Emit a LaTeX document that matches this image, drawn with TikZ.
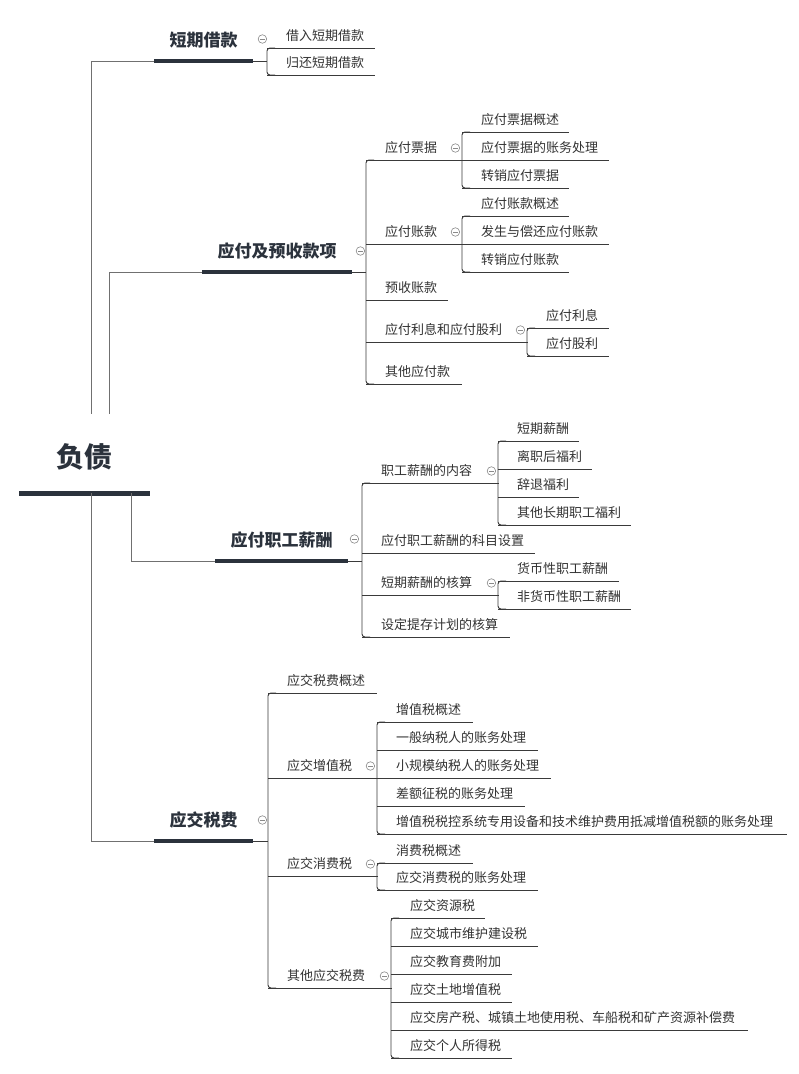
\documentclass[tikz,border=0pt]{standalone}
\usepackage{fontspec}
\setmainfont{Noto Sans CJK SC}
\usetikzlibrary{calc}
\definecolor{ink}{HTML}{333333}
\definecolor{navy}{HTML}{2B323C}
\definecolor{wire}{HTML}{3A3A3A}
\definecolor{rootwire}{HTML}{707070}
\definecolor{knobc}{HTML}{8A8A8A}
\tikzset{
  leaf/.style={anchor=south west, inner xsep=0pt, inner ysep=4.1pt, text height=10pt, text depth=3pt,
    font=\fontsize{13}{15}\selectfont, text=ink,
    append after command={(\tikzlastnode.south west) edge[draw=wire, line width=0.9pt] (\tikzlastnode.south east)}},
  major/.style={anchor=south west, inner xsep=0pt, inner ysep=10.5pt, text height=13pt, text depth=4pt,
    font=\fontsize{17}{20}\selectfont\bfseries, text=navy,
    append after command={(\tikzlastnode.south west) edge[draw=navy, line width=4pt] (\tikzlastnode.south east)}},
  rootnode/.style={anchor=south west, inner xsep=0pt, inner ysep=21.4pt, text height=32pt, text depth=4pt,
    font=\fontsize{28}{32}\selectfont\bfseries, text=navy,
    append after command={(\tikzlastnode.south west) edge[draw=navy, line width=5pt] (\tikzlastnode.south east)}},
  knob/.style={circle, draw=knobc, line width=0.6pt, minimum size=8.5pt, inner sep=0pt, fill=white,
    path picture={\draw[knobc, line width=0.6pt] ($(path picture bounding box.west)+(2pt,0)$) -- ($(path picture bounding box.east)+(-2pt,0)$);}},
  wireline/.style={draw=wire, line width=0.9pt},
  rootline/.style={draw=rootwire, line width=1pt}
}
\newcommand\topic[5]{\node[leaf] (#1) at (#2,#3) {\makebox[#4pt][l]{\hspace*{19pt}#5}};}
\newcommand\bigtopic[5]{\node[major] (#1) at (#2,#3) {\makebox[#4pt]{#5}};}
\newcommand\bracket[3]{%
  \draw[wireline] (#1.south east) -- (#1.south east -| #2.south west);%
  \draw[wireline, rounded corners=3pt] ($(#2.south west)+(8,0)$) -- (#2.south west) -- (#3.south west) -- ($(#3.south west)+(8,0)$);}
\begin{document}
\begin{tikzpicture}[x=1pt,y=-1pt]
\fill[white] (0,0) rectangle (799,1074);
\useasboundingbox (0,0) rectangle (799,1074);

% root
\node[rootnode] (root) at (19,493) {\makebox[131pt]{负债}};

% level 1
\bigtopic{s1}{154}{61}{99}{短期借款}
\bigtopic{s2}{202}{272}{150}{应付及预收款项}
\bigtopic{s3}{215}{561}{133}{应付职工薪酬}
\bigtopic{s4}{154}{841}{99}{应交税费}

\draw[rootline] ($(root.north west)+(72,0)$) |- (s1.south west);
\draw[rootline] ($(root.north west)+(90,0)$) |- (s2.south west);
\draw[rootline] ($(root.south west)+(112,0)$) |- (s3.south west);
\draw[rootline] ($(root.south west)+(72,0)$) |- (s4.south west);

% 短期借款
\topic{a1}{267}{48}{108}{借入短期借款}
\topic{a2}{267}{75}{108}{归还短期借款}
\bracket{s1}{a1}{a2}

% 应付及预收款项
\topic{b1}{366}{160}{96}{应付票据}
\topic{b11}{462}{132}{107}{应付票据概述}
\topic{b12}{462}{160}{147}{应付票据的账务处理}
\topic{b13}{462}{188}{107}{转销应付票据}
\topic{b2}{366}{244}{96}{应付账款}
\topic{b21}{462}{216}{107}{应付账款概述}
\topic{b22}{462}{244}{147}{发生与偿还应付账款}
\topic{b23}{462}{272}{107}{转销应付账款}
\topic{b3}{366}{300}{82}{预收账款}
\topic{b4}{366}{342}{161}{应付利息和应付股利}
\topic{b41}{527}{328}{82}{应付利息}
\topic{b42}{527}{356}{82}{应付股利}
\topic{b5}{366}{384}{96}{其他应付款}
\bracket{s2}{b1}{b5}
\bracket{b1}{b11}{b13}
\bracket{b2}{b21}{b23}
\bracket{b4}{b41}{b42}

% 应付职工薪酬
\topic{c1}{362}{483}{136}{职工薪酬的内容}
\topic{c11}{498}{441}{81}{短期薪酬}
\topic{c12}{498}{469}{94}{离职后福利}
\topic{c13}{498}{497}{81}{辞退福利}
\topic{c14}{498}{525}{133}{其他长期职工福利}
\topic{c2}{362}{553}{173}{应付职工薪酬的科目设置}
\topic{c3}{362}{595}{136}{短期薪酬的核算}
\topic{c31}{498}{581}{121}{货币性职工薪酬}
\topic{c32}{498}{609}{133}{非货币性职工薪酬}
\topic{c4}{362}{637}{148}{设定提存计划的核算}
\bracket{s3}{c1}{c4}
\bracket{c1}{c11}{c14}
\bracket{c3}{c31}{c32}

% 应交税费
\topic{d1}{268}{693}{109}{应交税费概述}
\topic{d2}{268}{778}{109}{应交增值税}
\topic{d21}{377}{722}{96}{增值税概述}
\topic{d22}{377}{750}{161}{一般纳税人的账务处理}
\topic{d23}{377}{778}{174}{小规模纳税人的账务处理}
\topic{d24}{377}{806}{148}{差额征税的账务处理}
\topic{d25}{377}{834}{410}{增值税税控系统专用设备和技术维护费用抵减增值税额的账务处理}
\topic{d3}{268}{876}{109}{应交消费税}
\topic{d31}{377}{863}{96}{消费税概述}
\topic{d32}{377}{890}{161}{应交消费税的账务处理}
\topic{d4}{268}{988}{123}{其他应交税费}
\topic{d41}{391}{918}{94}{应交资源税}
\topic{d42}{391}{946}{147}{应交城市维护建设税}
\topic{d43}{391}{974}{121}{应交教育费附加}
\topic{d44}{391}{1002}{121}{应交土地增值税}
\topic{d45}{391}{1030}{357}{应交房产税、城镇土地使用税、车船税和矿产资源补偿费}
\topic{d46}{391}{1058}{121}{应交个人所得税}
\bracket{s4}{d1}{d4}
\bracket{d2}{d21}{d25}
\bracket{d3}{d31}{d32}
\bracket{d4}{d41}{d46}

% collapse knobs
\node[knob] (ks1) at ($(s1.south east)+(9,-22)$) {};
\node[knob] (ks2) at ($(s2.south east)+(8,-21)$) {};
\node[knob] (ks3) at ($(s3.south east)+(6,-22)$) {};
\node[knob] (ks4) at ($(s4.south east)+(9,-21)$) {};
\node[knob] (kb1) at ($(b1.south east)+(-7,-12)$) {};
\node[knob] (kb2) at ($(b2.south east)+(-7,-12)$) {};
\node[knob] (kb4) at ($(b4.south east)+(-7,-12)$) {};
\node[knob] (kc1) at ($(c1.south east)+(-7,-12)$) {};
\node[knob] (kc3) at ($(c3.south east)+(-7,-12)$) {};
\node[knob] (kd2) at ($(d2.south east)+(-7,-12)$) {};
\node[knob] (kd3) at ($(d3.south east)+(-7,-12)$) {};
\node[knob] (kd4) at ($(d4.south east)+(-7,-12)$) {};
\end{tikzpicture}
\end{document}
